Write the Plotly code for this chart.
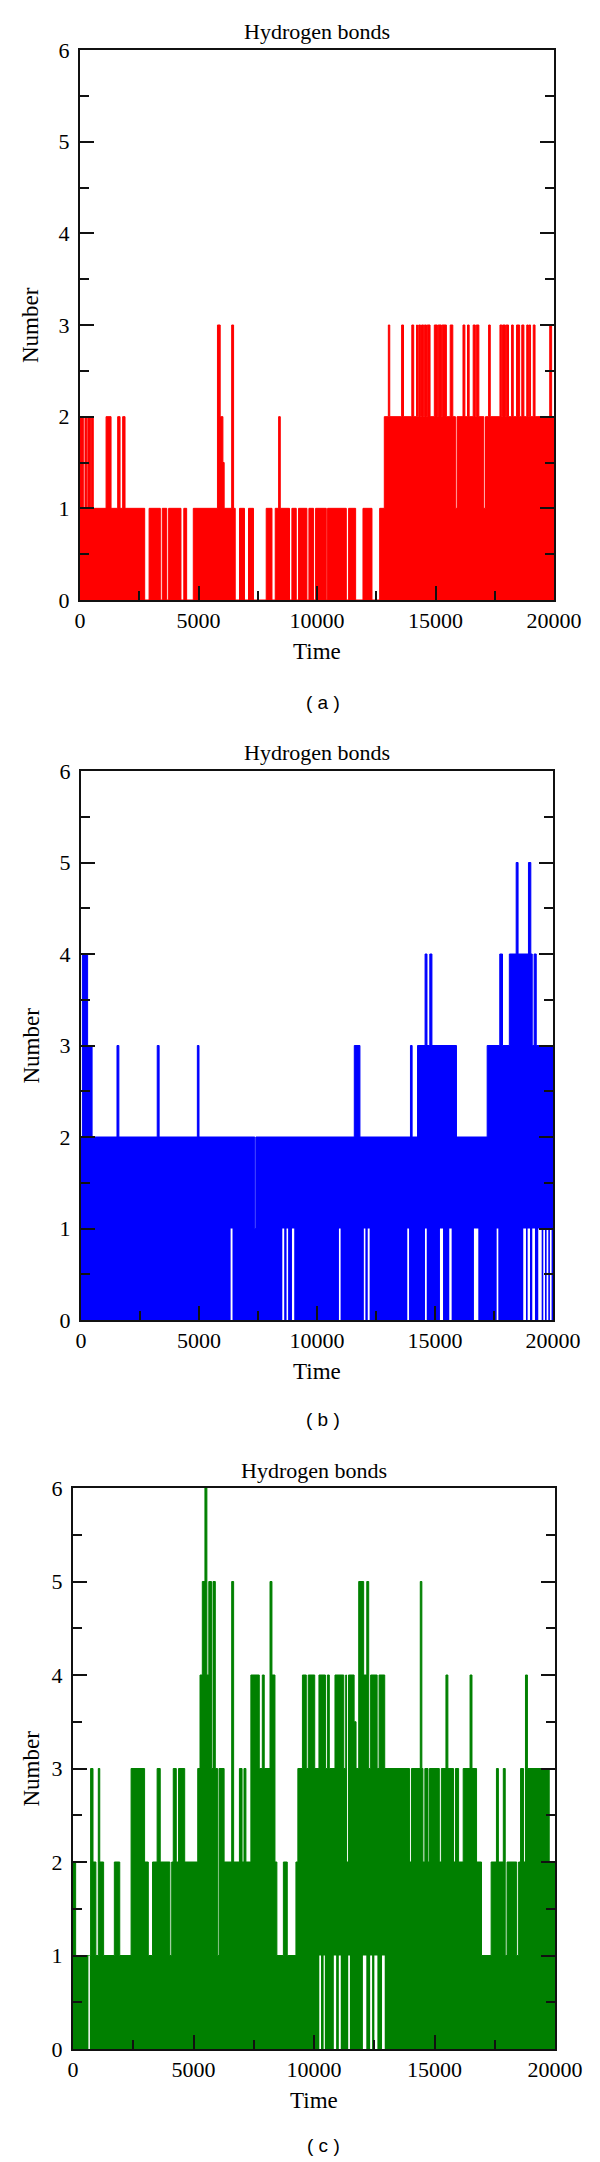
import plotly.graph_objects as go

W, H = 600, 2162
T_MAX = 20000

# ---------------- Panel (a): red ----------------
# upper envelope of the number of hydrogen bonds (base level, then override intervals)
a_hi_base = 1
a_hi_start = [0, 210, 330, 490, 1100, 1590, 1800, 8380, 12840,
              5800, 5915, 6030, 6400,
              2730, 3390, 3660, 4260, 4500, 6550, 6940, 7320, 8100, 8840, 9124, 9574,
              9856, 10391, 11236, 11630, 12320,
              13010, 13570, 14000, 14200, 14290, 14410, 14530, 14650, 14950, 15110, 15280,
              15620, 16160, 16350, 16590, 16720, 17240, 17720, 17830, 17980, 18210, 18420,
              18640, 18850, 18950, 19125, 19820,
              15840, 17040]
a_hi_end = [140, 280, 450, 560, 1310, 1690, 1900, 8450, 20000,
            5915, 6030, 6083, 6480,
            2915, 3470, 3740, 4380, 4780, 6730, 7110, 7857, 8237, 8941, 9222, 9659,
            9940, 10447, 11334, 11940, 12644,
            13070, 13650, 14080, 14240, 14370, 14500, 14620, 14770, 15080, 15250, 15460,
            15730, 16240, 16420, 16680, 16830, 17310, 17800, 17950, 18080, 18280, 18550,
            18730, 18920, 19010, 19200, 19900,
            15910, 17110]
a_hi_level = [2, 2, 2, 2, 2, 2, 2, 2, 2,
              3, 2, 1.5, 3,
              0, 0, 0, 0, 0, 0, 0, 0, 0, 0, 0, 0,
              0, 0, 0, 0, 0,
              3, 3, 3, 3, 3, 3, 3, 3, 3, 3, 3,
              3, 3, 3, 3, 3, 3, 3, 3, 3, 3, 3,
              3, 3, 3, 3, 3,
              1, 1]
# lower envelope
a_lo_base = 0
a_lo_start = []
a_lo_end = []
a_lo_level = []

# ---------------- Panel (b): blue ----------------
b_hi_base = 2
b_hi_start = [60, 280, 1525, 3230, 4930, 7365, 11580, 13960, 14260, 14580, 14780,
              17210, 17745, 18150, 18440, 18960, 19120, 19200, 19290]
b_hi_end = [280, 470, 1605, 3310, 5000, 7410, 11820, 14030, 15910, 14660, 14870,
            18150, 17860, 19120, 18520, 19060, 19200, 19290, 20000]
b_hi_level = [4, 3, 3, 3, 3, 1, 3, 3, 3, 4, 4,
              3, 4, 4, 5, 5, 3, 4, 3]
b_lo_base = 0
b_lo_start = [6340, 8530, 8710, 8940, 10930, 11985, 12150, 13826, 14576, 15210, 15605,
              16650, 17613, 18740, 18925, 19122, 19376, 19590, 19730, 19870]
b_lo_end = [6420, 8610, 8775, 9035, 11000, 12050, 12230, 13900, 14650, 15340, 15705,
            16835, 17683, 18855, 19025, 19236, 19520, 19660, 19800, 19940]
b_lo_level = [1] * 20

# ---------------- Panel (c): green ----------------
c_hi_base = 1
c_hi_start = [0, 730, 830, 1050, 1110, 1715, 2410, 2970, 3300, 3490, 3620, 4095, 4160,
              4285, 4380, 4635, 5175, 5270, 5365, 5475, 5555, 5635, 5745, 5810, 5905,
              6060, 6270, 6585, 6665, 6905, 7015, 7095, 7175, 7380, 7730, 7855, 7935,
              8175, 8255, 8380, 8730, 9250, 9330, 9520, 9680, 9760, 10030, 10205, 10475,
              10555, 10635, 10870, 11235, 11315, 11350, 11430, 11665, 11745, 11855, 12060,
              12190, 12270, 12350, 12620, 12700, 12935, 13965, 14045, 14410, 14475, 14520,
              14600, 14730, 14790, 15200, 15285, 15475, 15555, 15790, 15870, 16000, 16190,
              16475, 16555, 16745, 17350, 17570, 17650, 17855, 18010, 18490, 18570,
              18695, 18775, 18855, 19760]
c_hi_end = [110, 830, 950, 1110, 1270, 1940, 2970, 3125, 3490, 3620, 4020, 4160, 4285,
            4380, 4635, 5175, 5270, 5365, 5475, 5555, 5635, 5745, 5810, 5905, 6000,
            6270, 6585, 6665, 6905, 7015, 7095, 7175, 7380, 7730, 7855, 7935, 8175,
            8255, 8380, 8460, 8890, 9330, 9520, 9680, 9760, 10030, 10205, 10475, 10555,
            10635, 10870, 11235, 11315, 11350, 11430, 11665, 11745, 11855, 12060, 12190,
            12270, 12350, 12620, 12700, 12935, 13965, 14045, 14410, 14475, 14520, 14600,
            14730, 14790, 15200, 15285, 15475, 15555, 15790, 15870, 16000, 16190, 16475,
            16555, 16745, 16950, 17570, 17650, 17855, 17935, 18410, 18570, 18695,
            18775, 18855, 19760, 20000]
c_hi_level = [2, 3, 2, 3, 2, 2, 3, 2, 2, 3, 2, 2, 3,
              2, 3, 2, 3, 4, 5, 6, 4, 5, 3, 5, 3,
              3, 2, 5, 2, 3, 2, 3, 2, 4, 3, 4, 3,
              5, 4, 2, 2, 2, 3, 4, 3, 4, 3, 4, 3,
              4, 3, 4, 3, 4, 2, 4, 3.5, 3, 5, 4,
              5, 3, 4, 3, 4, 3, 2, 3, 5, 3, 2,
              3, 2, 3, 2, 3, 4, 3, 2, 3, 2, 3,
              4, 3, 2, 2, 3, 2, 3, 2, 2, 3,
              2, 4, 3, 2]
c_lo_base = 0
c_lo_start = [640, 10220, 10400, 10823, 11030, 11420, 12030, 12330, 12505, 12823]
c_lo_end = [700, 10290, 10450, 10918, 11110, 11490, 12170, 12410, 12630, 12935]
c_lo_level = [1] * 10

x_ticks = [0, 5000, 10000, 15000, 20000]
x_tick_labels = ["0", "5000", "10000", "15000", "20000"]
y_ticks = [0, 1, 2, 3, 4, 5, 6]
y_tick_labels = ["0", "1", "2", "3", "4", "5", "6"]


def step(base, starts, ends, levels):
    edges = sorted(set([0, T_MAX] + list(starts) + list(ends)))
    xs, ys = [], []
    for a, b in zip(edges[:-1], edges[1:]):
        m = (a + b) / 2
        v = base
        for s, e, l in zip(starts, ends, levels):
            if s <= m < e:
                v = l
        xs.append(a)
        ys.append(v)
    xs.append(T_MAX)
    ys.append(ys[-1])
    return xs, ys


panels = [
    dict(color="#FF0000", box=(80, 554, 50, 600), lab="( a )", laby=702,
         hi=(a_hi_base, a_hi_start, a_hi_end, a_hi_level),
         lo=(a_lo_base, a_lo_start, a_lo_end, a_lo_level)),
    dict(color="#0000FF", box=(81, 553, 771, 1320), lab="( b )", laby=1419,
         hi=(b_hi_base, b_hi_start, b_hi_end, b_hi_level),
         lo=(b_lo_base, b_lo_start, b_lo_end, b_lo_level)),
    dict(color="#008000", box=(73, 555, 1488, 2049), lab="( c )", laby=2145,
         hi=(c_hi_base, c_hi_start, c_hi_end, c_hi_level),
         lo=(c_lo_base, c_lo_start, c_lo_end, c_lo_level)),
]

SERIF = "Liberation Serif"
fig = go.Figure()
annotations = []
layout = {}
for i, p in enumerate(panels, start=1):
    sfx = "" if i == 1 else str(i)
    xa, ya = "x" + sfx, "y" + sfx
    hx, hy = step(*p["hi"])
    lx, ly = step(*p["lo"])
    fig.add_trace(go.Scatter(x=hx, y=hy, mode="lines", line_shape="hv",
                             line=dict(color=p["color"], width=1),
                             fill="tozeroy", fillcolor=p["color"],
                             xaxis=xa, yaxis=ya, showlegend=False, hoverinfo="skip"))
    if any(v > 0 for v in ly):
        fig.add_trace(go.Scatter(x=lx, y=ly, mode="lines", line_shape="hv",
                                 line=dict(color="white", width=0),
                                 fill="tozeroy", fillcolor="white",
                                 xaxis=xa, yaxis=ya, showlegend=False, hoverinfo="skip"))
    x0, x1, y0, y1 = p["box"]
    common = dict(showline=True, linecolor="#111", linewidth=2, showgrid=False,
                  zeroline=False, ticks="inside", tickcolor="#111", tickwidth=1.5,
                  ticklen=14, automargin=False,
                  tickfont=dict(family=SERIF, size=22, color="black"))
    layout["xaxis" + sfx] = dict(common, domain=[x0 / W, x1 / W], range=[0, T_MAX],
                                 tickmode="array", tickvals=x_ticks, ticktext=x_tick_labels,
                                 mirror=True, anchor=ya,
                                 minor=dict(ticks="inside", ticklen=9, tickcolor="#111",
                                            tickwidth=1.5, dtick=2500, tick0=0))
    layout["yaxis" + sfx] = dict(common, domain=[1 - y1 / H, 1 - y0 / H], range=[0, 6],
                                 tickmode="array", tickvals=y_ticks, ticktext=y_tick_labels,
                                 mirror="ticks", anchor=xa,
                                 ticklabelstandoff=4,
                                 minor=dict(ticks="inside", ticklen=9, tickcolor="#111",
                                            tickwidth=1.5, dtick=0.5, tick0=0))
    cx = (x0 + x1) / 2
    annotations += [
        dict(text="Hydrogen bonds", x=cx / W, y=1 - (y0 - 18) / H, xref="paper", yref="paper",
             showarrow=False, font=dict(family=SERIF, size=22, color="black"),
             xanchor="center", yanchor="middle"),
        dict(text="Number", x=31 / W, y=1 - ((y0 + y1) / 2) / H, xref="paper", yref="paper",
             showarrow=False, textangle=-90, font=dict(family=SERIF, size=23, color="black"),
             xanchor="center", yanchor="middle"),
        dict(text="Time", x=cx / W, y=1 - (y1 + 51) / H, xref="paper", yref="paper",
             showarrow=False, font=dict(family=SERIF, size=23, color="black"),
             xanchor="center", yanchor="middle"),
        dict(text=p["lab"], x=323 / W, y=1 - p["laby"] / H, xref="paper", yref="paper",
             showarrow=False, font=dict(family="Liberation Sans", size=19, color="black"),
             xanchor="center", yanchor="middle"),
    ]

fig.update_layout(template="none", width=W, height=H, autosize=False,
                  margin=dict(l=0, r=0, t=0, b=0, pad=0),
                  paper_bgcolor="white", plot_bgcolor="white",
                  annotations=annotations, **layout)
fig.write_html("out.html", config={"displayModeBar": False, "responsive": False},
               post_script="document.body.style.margin='0px';")
